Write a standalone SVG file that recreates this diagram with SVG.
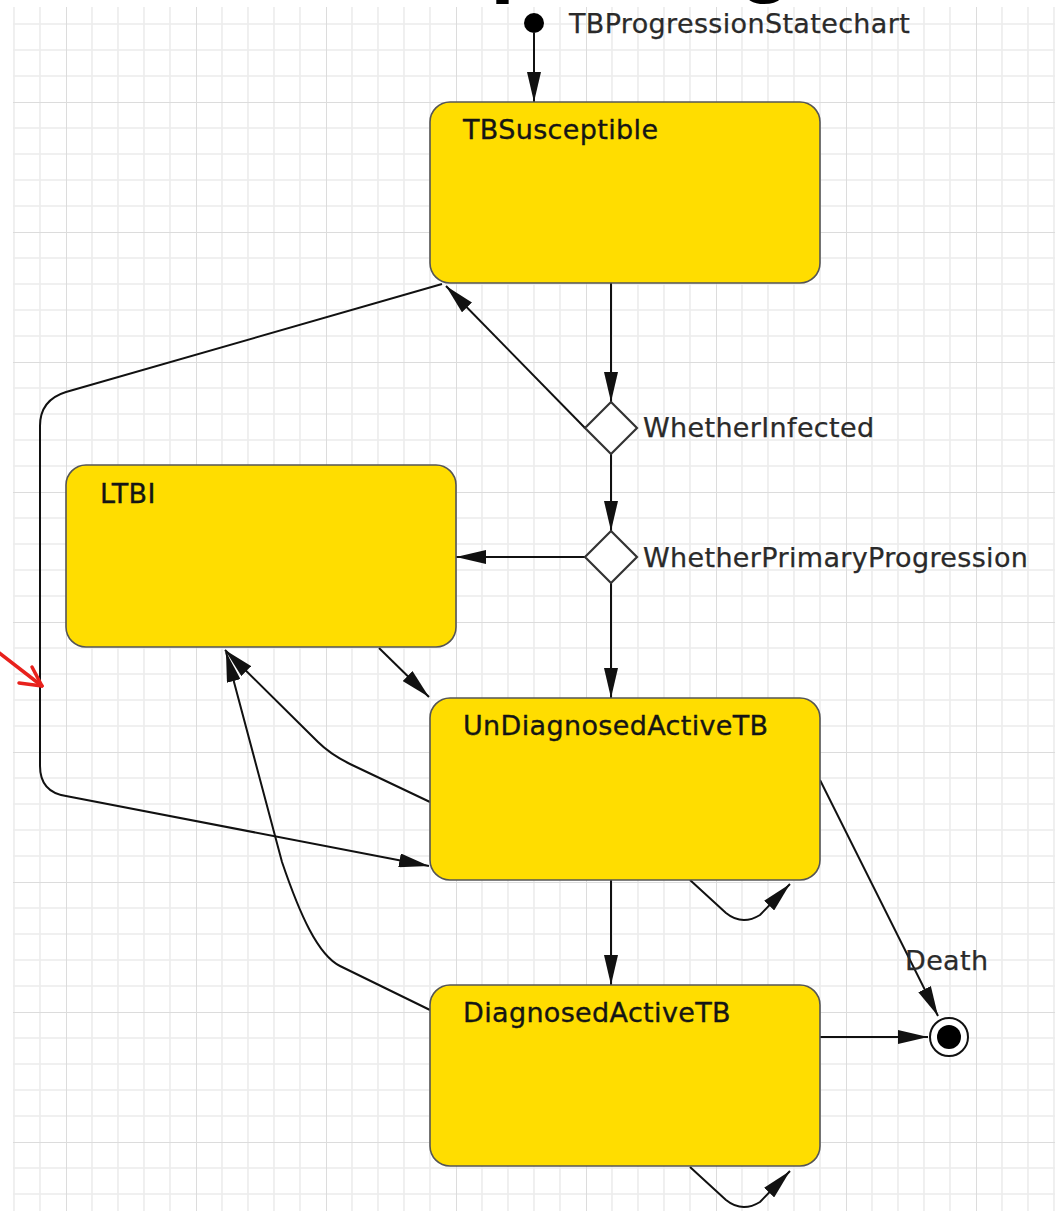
<svg xmlns="http://www.w3.org/2000/svg" width="1055" height="1211" viewBox="0 0 1055 1211">
  <style>
    .state { fill: #FFDD00; stroke: #555; stroke-width: 1.6; }
    .slabel { font-family: "DejaVu Sans", sans-serif; font-size: 27px; letter-spacing: 0.35px; fill: #151515; stroke: #151515; stroke-width: 0.35; }
    .plabel { font-family: "DejaVu Sans", sans-serif; font-size: 27px; letter-spacing: 0.35px; fill: #2a2a2a; stroke: #2a2a2a; stroke-width: 0.25; }
    .branch { fill: #fff; stroke: #333; stroke-width: 2.2; }
    .edge { fill: none; stroke: #111; stroke-width: 2; marker-end: url(#arrow); }
    .gminor { stroke: #ececec; stroke-width: 1.6; }
    .gmajor { stroke: #dcdcdc; stroke-width: 2; }
  </style>
  <defs>
    <marker id="arrow" viewBox="0 0 30 14" refX="30" refY="7" markerWidth="30" markerHeight="14" markerUnits="userSpaceOnUse" orient="auto">
      <path d="M0,0 L30,7 L0,14 z" fill="#111"/>
    </marker>
    <pattern id="grid" patternUnits="userSpaceOnUse" x="66" y="102" width="130" height="130">
      <path class="gminor" d="M26,0 V130 M52,0 V130 M78,0 V130 M104,0 V130 M0,26 H130 M0,52 H130 M0,78 H130 M0,104 H130"/>
      <path class="gmajor" d="M0,0 V130 M0,0 H130"/>
    </pattern>
  </defs>

  <!-- canvas -->
  <rect width="1055" height="1211" fill="#fff"/>
  <rect x="13" y="7" width="1042" height="1204" fill="url(#grid)"/>

  <!-- slide title, mostly above the visible area -->
  <text font-family="Liberation Sans, sans-serif" font-weight="bold" font-size="90" fill="#000"><tspan x="490" y="-15">p</tspan><tspan x="738" y="-15">g</tspan></text>

  <!-- connectors -->
  <g id="connectors">
    <path class="edge" d="M534,33 L534,102"/>
    <path class="edge" d="M611,283 L611,402"/>
    <path class="edge" d="M611,454 L611,531"/>
    <path class="edge" d="M611,583 L611,698"/>
    <path class="edge" d="M611,880 L611,985"/>
    <path class="edge" d="M585,557 L456,557"/>
    <path class="edge" d="M585,428 L446,286"/>
    <path class="edge" d="M442,284 L66,392 Q40,400 40,426 L40,766 Q40,792 66,796 L429,866"/>
    <path class="edge" d="M379,648 L429,697"/>
    <path class="edge" d="M430,802 L350,764 Q330,754 318,742 L225,650"/>
    <path class="edge" d="M430,1010 L340,966 C318,955 300,915 282,862 L226,652"/>
    <path class="edge" d="M820,780 L938,1016"/>
    <path class="edge" d="M820,1037 L928,1037"/>
    <path class="edge" d="M690,880 L726,913 Q742,926 760,915 L790,884"/>
    <path class="edge" d="M690,1167 L726,1200 Q742,1213 760,1202 L790,1171"/>
  </g>

  <!-- pseudo-states -->
  <g id="initial">
    <circle cx="534" cy="23" r="10" fill="#000"/>
    <text class="plabel" x="569" y="33">TBProgressionStatechart</text>
  </g>
  <g id="whether-infected">
    <polygon class="branch" points="611,402 637,428 611,454 585,428"/>
    <text class="plabel" x="643" y="437">WhetherInfected</text>
  </g>
  <g id="whether-primary-progression">
    <polygon class="branch" points="611,531 637,557 611,583 585,557"/>
    <text class="plabel" x="643" y="567">WhetherPrimaryProgression</text>
  </g>
  <g id="final">
    <circle cx="949" cy="1037" r="19" fill="#fff" stroke="#111" stroke-width="2"/>
    <circle cx="949" cy="1037" r="12" fill="#000"/>
    <text class="plabel" x="905" y="970">Death</text>
  </g>

  <!-- states -->
  <g id="tb-susceptible">
    <rect class="state" x="430" y="102" width="390" height="181" rx="20"/>
    <text class="slabel" x="463" y="139">TBSusceptible</text>
  </g>
  <g id="ltbi">
    <rect class="state" x="66" y="465" width="390" height="182" rx="20"/>
    <text class="slabel" x="100" y="503">LTBI</text>
  </g>
  <g id="undiagnosed-active-tb">
    <rect class="state" x="430" y="698" width="390" height="182" rx="20"/>
    <text class="slabel" x="463" y="735">UnDiagnosedActiveTB</text>
  </g>
  <g id="diagnosed-active-tb">
    <rect class="state" x="430" y="985" width="390" height="181" rx="20"/>
    <text class="slabel" x="463" y="1022">DiagnosedActiveTB</text>
  </g>

  <!-- red pointer -->
  <g id="pointer" fill="none" stroke="#e8211c" stroke-width="3.5" stroke-linecap="round" stroke-linejoin="round">
    <path d="M-2,652 L42,686"/>
    <path d="M32,667 L42,686 L19,683"/>
  </g>
</svg>
